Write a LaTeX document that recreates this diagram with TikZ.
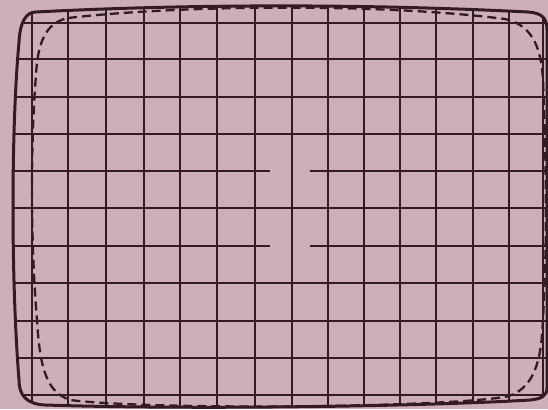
\documentclass[tikz,border=0pt]{standalone}
\usetikzlibrary{calc}
\definecolor{bgpink}{RGB}{205,175,183}
\definecolor{ink}{RGB}{50,28,34}
\tikzset{
  gridline/.style={draw=ink, line width=1.25pt},
  framestyle/.style={draw=ink, line width=3pt, line join=round},
  dashframe/.style={draw=ink, line width=2.3pt, dash pattern=on 9pt off 5pt}
}
\def\framepath{(36,12) .. controls (150,6) and (330,2) .. (528,12)
  .. controls (542,13) and (547,18) .. (547,30)
  -- (547,388)
  .. controls (547,396) and (541,399) .. (530,400)
  .. controls (430,406) and (200,410) .. (45,405)
  .. controls (27,404) and (19,396) .. (19,380)
  .. controls (11,280) and (11,130) .. (19,42)
  .. controls (20,22) and (26,12) .. (36,12) -- cycle}
\begin{document}
\begin{tikzpicture}[x=1pt,y=-1pt]
\useasboundingbox (0,0) rectangle (548,409);
\fill[bgpink] (0,0) rectangle (548,409);
\begin{scope}
  \clip \framepath;
  \foreach \xx in {32,68,106,144,180,217,255,292,328,364,400,436,473,509,543}
    \draw[gridline] (\xx,-5) -- (\xx,415);
  \foreach \yy in {23,59,97,134,208,283,321,358,395}
    \draw[gridline] (-5,\yy) -- (555,\yy);
  \foreach \yy in {171,246}{
    \draw[gridline] (-5,\yy) -- (270,\yy);
    \draw[gridline] (310,\yy) -- (555,\yy);
  }
\end{scope}
\draw[dashframe] (68,18) .. controls (180,5) and (380,3) .. (505,19)
  .. controls (531,25) and (541,45) .. (543,80)
  .. controls (547,180) and (547,260) .. (542,335)
  .. controls (539,375) and (526,392) .. (505,397)
  .. controls (430,408) and (150,410) .. (70,400)
  .. controls (47,392) and (40,370) .. (37,320)
  .. controls (31,250) and (30,150) .. (36,75)
  .. controls (38,35) and (50,22) .. (68,18) -- cycle;
\draw[framestyle] \framepath;
\end{tikzpicture}
\end{document}
